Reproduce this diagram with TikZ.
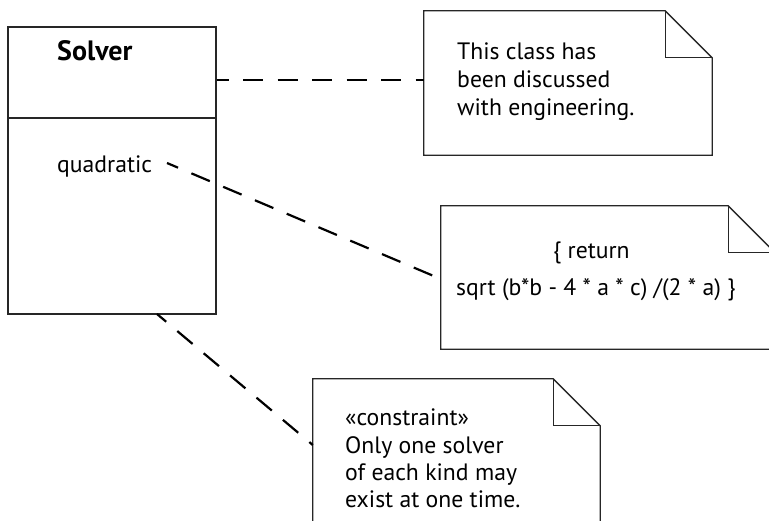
\documentclass[tikz,border=0pt]{standalone}
\usepackage{fontspec}
\setmainfont{PT Sans}
\usetikzlibrary{calc}
\begin{document}
\begin{tikzpicture}[x=1pt,y=-1pt,
  boxline/.style={draw=black!85,line width=1.3pt},
  link/.style={draw=black,line width=2.2pt,dash pattern=on 20pt off 14.5pt,dash phase=8pt},
  txt/.style={anchor=base west,inner sep=0pt,font=\fontsize{23.7}{28}\selectfont},
  btxt/.style={anchor=base west,inner sep=0pt,font=\fontsize{28}{32}\selectfont\bfseries},
  notearea/.style={draw=none,rectangle,inner sep=0pt}]
\useasboundingbox (0,0) rectangle (769,520);
\clip (0,0) rectangle (769,520);
% class box
\node[boxline,rectangle,minimum width=208pt,minimum height=287pt,inner sep=0pt] (cls) at (112,170.5) {};
\draw[boxline] (cls.west |- 0,118) -- (cls.east |- 0,118);
\node[btxt] (cname) at (57,60) {Solver};
\node[txt] (op) at (57,172) {quadratic};
% note 1
\node[notearea,minimum width=288pt,minimum height=144pt] (n1) at (568,83) {};
\draw[boxline,fill=white] (n1.north west) -- ($(n1.north east)+(-47,0)$) -- ($(n1.north east)+(0,47)$) -- (n1.south east) -- (n1.south west) -- cycle;
\draw[boxline] ($(n1.north east)+(-47,0)$) |- ($(n1.north east)+(0,47)$);
\node[txt] (n1a) at (457,59) {This class has};
\node[txt] (n1b) at (457,87) {been discussed};
\node[txt] (n1c) at (457,115) {with engineering.};
% note 2
\node[notearea,minimum width=334pt,minimum height=143pt] (n2) at (608,277.5) {};
\draw[boxline,fill=white] (n2.north west) -- ($(n2.north east)+(-47,0)$) -- ($(n2.north east)+(0,47)$) -- (n2.south east) -- (n2.south west) -- cycle;
\draw[boxline] ($(n2.north east)+(-47,0)$) |- ($(n2.north east)+(0,47)$);
\node[txt] (n2a) at (553,258) {\{ return};
\node[txt] (n2b) at (456,295) {sqrt (b*b - 4 * a * c) /(2 * a) \}};
% note 3
\node[notearea,minimum width=287pt,minimum height=160pt] (n3) at (456.5,459) {};
\draw[boxline,fill=white] (n3.north west) -- ($(n3.north east)+(-47,0)$) -- ($(n3.north east)+(0,47)$) -- (n3.south east) -- (n3.south west) -- cycle;
\draw[boxline] ($(n3.north east)+(-47,0)$) |- ($(n3.north east)+(0,47)$);
\node[txt] (n3a) at (345,425) {«constraint»};
\node[txt] (n3b) at (345,453) {Only one solver};
\node[txt] (n3c) at (345,480) {of each kind may};
\node[txt] (n3d) at (345,507) {exist at one time.};
% connectors
\coordinate (qa) at (167,163);
\coordinate (cb) at (157,314);
\draw[link] (cls.east |- 0,80) -- (n1.west |- 0,80);
\draw[link] (qa) -- (n2.west |- 0,279);
\draw[link] (cb) -- (n3.west |- 0,445);
\end{tikzpicture}
\end{document}
